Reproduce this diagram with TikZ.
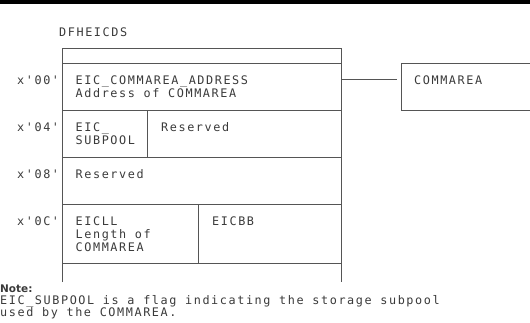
\documentclass[tikz,border=0pt]{standalone}
\usepackage{fontspec}
\newfontfamily\monofam[LetterSpace=13.5]{DejaVu Sans Mono}
\newfontfamily\notefam{DejaVu Sans}
\definecolor{linegray}{HTML}{555555}
\definecolor{textgray}{HTML}{3A3A3A}
\begin{document}
\begin{tikzpicture}[x=1pt,y=-1pt,
  frame/.style={draw=linegray, line width=1pt},
  txt/.style={anchor=base west, inner sep=0pt, text=textgray, font=\monofam\fontsize{11.8}{13}\selectfont},
  notetxt/.style={anchor=base west, inner sep=0pt, text=textgray, font=\notefam\bfseries\fontsize{10.5}{12}\selectfont}]
\useasboundingbox (0,0) rectangle (530,322);
% top rule
\fill[black] (0,0) rectangle (530,4);
% title
\node[txt] (title) at (59,36) {DFHEICDS};
% main column
\draw[frame] (62.5,282) -- (62.5,48) -- (341.5,48) -- (341.5,282);
\draw[frame] (62.5,63) -- (341.5,63);
\draw[frame] (62.5,110) -- (341.5,110);
\draw[frame] (62.5,157) -- (341.5,157);
\draw[frame] (62.5,204) -- (341.5,204);
\draw[frame] (62.5,263) -- (341.5,263);
\draw[frame] (147,110) -- (147,157);
\draw[frame] (198,204) -- (198,263);
% offsets
\node[txt] (o0) at (17,84) {x'00'};
\node[txt] (o4) at (17,131) {x'04'};
\node[txt] (o8) at (17,178) {x'08'};
\node[txt] (oC) at (17,225) {x'0C'};
% row 0
\node[txt] (a1) at (75.5,84) {EIC\_COMMAREA\_ADDRESS};
\node[txt] (a2) at (75.5,97) {Address of COMMAREA};
% row 1
\node[txt] (b1) at (75.5,131) {EIC\_};
\node[txt] (b2) at (75.5,144) {SUBPOOL};
\node[txt] (b3) at (161,131) {Reserved};
% row 2
\node[txt] (c1) at (75.5,178) {Reserved};
% row 3
\node[txt] (d1) at (75.5,225) {EICLL};
\node[txt] (d2) at (75.5,238) {Length of};
\node[txt] (d3) at (75.5,251) {COMMAREA};
\node[txt] (d4) at (212,225) {EICBB};
% commarea box
\draw[frame] (540,63) -- (401,63) -- (401,110) -- (540,110);
\node[txt] (cm) at (414,84) {COMMAREA};
\coordinate (cl) at (341.5,79);
\coordinate (cr) at (397,79);
\draw[frame] (cl) -- (cr);
% note
\node[notetxt] (n0) at (0,292) {Note:};
\node[txt] (n1) at (0,304.5) {EIC\_SUBPOOL is a flag indicating the storage subpool};
\node[txt] (n2) at (0,316.5) {used by the COMMAREA.};
\end{tikzpicture}
\end{document}
